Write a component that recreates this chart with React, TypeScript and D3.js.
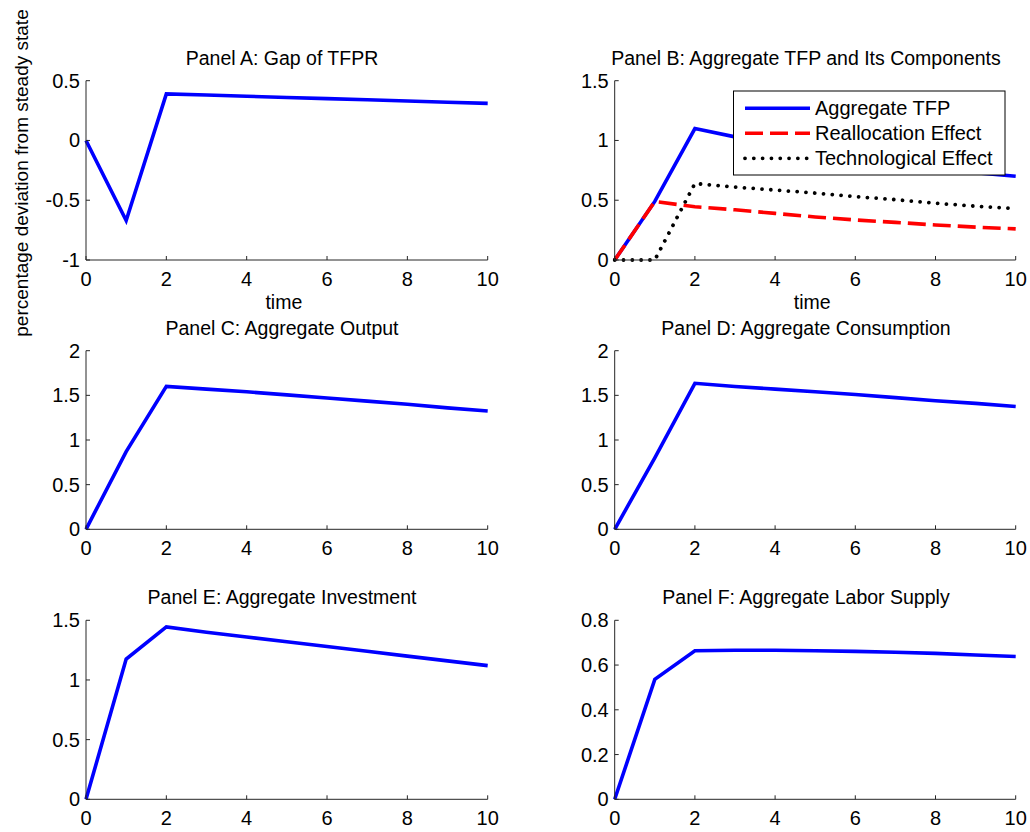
import React from "react";
import * as d3 from "d3";

const TIME = [0, 1, 2, 3, 4, 5, 6, 7, 8, 9, 10];
const X_TICKS = [0, 2, 4, 6, 8, 10];

const gapTFPR = [0, -0.67, 0.39, 0.38, 0.37, 0.36, 0.35, 0.34, 0.33, 0.32, 0.31];
const aggregateTFP = [0, 0.49, 1.1, 1.03, 0.98, 0.93, 0.87, 0.82, 0.77, 0.73, 0.7];
const reallocationEffect = [0, 0.49, 0.445, 0.42, 0.39, 0.36, 0.335, 0.315, 0.293, 0.275, 0.26];
const technologicalEffect = [0, 0, 0.64, 0.61, 0.585, 0.56, 0.53, 0.505, 0.475, 0.45, 0.43];
const aggregateOutput = [0, 0.87, 1.6, 1.57, 1.54, 1.505, 1.47, 1.435, 1.4, 1.36, 1.325];
const aggregateConsumption = [0, 0.8, 1.635, 1.6, 1.57, 1.54, 1.51, 1.475, 1.44, 1.41, 1.375];
const aggregateInvestment = [0, 1.175, 1.445, 1.4, 1.36, 1.32, 1.28, 1.24, 1.2, 1.16, 1.12];
const aggregateLabor = [0, 0.536, 0.664, 0.666, 0.666, 0.664, 0.661, 0.657, 0.652, 0.645, 0.638];

const TITLES = [
  "Panel A: Gap of TFPR",
  "Panel B: Aggregate TFP and Its Components",
  "Panel C: Aggregate Output",
  "Panel D: Aggregate Consumption",
  "Panel E: Aggregate Investment",
  "Panel F: Aggregate Labor Supply",
];
const Y_TICKS_A = [-1, -0.5, 0, 0.5];
const Y_TICKS_B = [0, 0.5, 1, 1.5];
const Y_TICKS_CD = [0, 0.5, 1, 1.5, 2];
const Y_TICKS_E = [0, 0.5, 1, 1.5];
const Y_TICKS_F = [0, 0.2, 0.4, 0.6, 0.8];
const LEGEND_LABELS = ["Aggregate TFP", "Reallocation Effect", "Technological Effect"];
const Y_LABEL = "percentage deviation from steady state";
const X_LABEL = "time";

const FONT = "'Liberation Sans', Arial, Helvetica, sans-serif";
const AXIS = "#262626";
const BLUE = "#0000ff";
const RED = "#ff0000";

type Series = { values: number[]; color: string; dash?: string; cap?: string; width: number };

const solid = (values: number[]): Series => ({ values, color: BLUE, width: 3.6 });
const dashed = (values: number[]): Series => ({ values, color: RED, dash: "18,7", width: 3.6 });
const dotted = (values: number[]): Series => ({ values, color: "#000", dash: "0.01,8.8", cap: "round", width: 3.8 });

const COLS = [
  [86, 487.7],
  [614.7, 1015.7],
];
const ROWS = [
  [80.7, 260],
  [350.7, 529.3],
  [620.3, 799.3],
];
const TITLE_X = [282, 806];

const panels = [
  { title: TITLES[0], series: [solid(gapTFPR)], yDomain: [-1, 0.5], yTicks: Y_TICKS_A, xlabel: true, legend: false },
  {
    title: TITLES[1],
    series: [solid(aggregateTFP), dashed(reallocationEffect), dotted(technologicalEffect)],
    yDomain: [0, 1.5],
    yTicks: Y_TICKS_B,
    xlabel: true,
    legend: true,
  },
  { title: TITLES[2], series: [solid(aggregateOutput)], yDomain: [0, 2], yTicks: Y_TICKS_CD, xlabel: false, legend: false },
  { title: TITLES[3], series: [solid(aggregateConsumption)], yDomain: [0, 2], yTicks: Y_TICKS_CD, xlabel: false, legend: false },
  { title: TITLES[4], series: [solid(aggregateInvestment)], yDomain: [0, 1.5], yTicks: Y_TICKS_E, xlabel: false, legend: false },
  { title: TITLES[5], series: [solid(aggregateLabor)], yDomain: [0, 0.8], yTicks: Y_TICKS_F, xlabel: false, legend: false },
];

function Panel({ p, idx }: { p: (typeof panels)[number]; idx: number }) {
  const col = idx % 2;
  const row = Math.floor(idx / 2);
  const [x0, x1] = COLS[col];
  const [y0, y1] = ROWS[row];
  const x = d3.scaleLinear().domain([0, 10]).range([x0, x1]);
  const y = d3.scaleLinear().domain(p.yDomain).range([y1, y0]);
  const line = d3
    .line<number>()
    .x((_, i) => x(TIME[i]))
    .y((d) => y(d));
  const fmt = (v: number) => String(v);
  return (
    <g>
      <text x={TITLE_X[col]} y={y0 - 16} textAnchor="middle" fontSize={19.5} fill="#000">
        {p.title}
      </text>
      {p.series.map((s, i) => (
        <path
          key={i}
          d={line(s.values) || ""}
          fill="none"
          stroke={s.color}
          strokeWidth={s.width}
          strokeDasharray={s.dash}
          strokeLinecap={(s.cap as any) || "butt"}
          strokeLinejoin="miter"
        />
      ))}
      <line x1={x0} x2={x0} y1={y0} y2={y1} stroke={AXIS} strokeWidth={1} />
      <line x1={x0} x2={x1} y1={y1} y2={y1} stroke={AXIS} strokeWidth={1} />
      {p.yTicks.map((t) => (
        <g key={"y" + t}>
          <line x1={x0} x2={x0 + 4} y1={y(t)} y2={y(t)} stroke={AXIS} strokeWidth={1} />
          <text x={x0 - 6} y={y(t) + 7} textAnchor="end" fontSize={20} fill="#000">
            {fmt(t)}
          </text>
        </g>
      ))}
      {X_TICKS.map((t) => (
        <g key={"x" + t}>
          <line x1={x(t)} x2={x(t)} y1={y1} y2={y1 - 4} stroke={AXIS} strokeWidth={1} />
          <text x={x(t)} y={y1 + 26} textAnchor="middle" fontSize={20} fill="#000">
            {fmt(t)}
          </text>
        </g>
      ))}
      {p.xlabel && (
        <text x={(x0 + x1) / 2 - 3} y={y1 + 49} textAnchor="middle" fontSize={19.5} fill="#000">
          {X_LABEL}
        </text>
      )}
      {p.legend && (
        <g>
          <rect x={733.5} y={91} width={271.5} height={84} fill="#fff" stroke="#000" strokeWidth={1} />
          {p.series.map((s, i) => {
            const ly = 108.3 + i * 25;
            return (
              <g key={"l" + i}>
                <line
                  x1={745}
                  x2={810}
                  y1={ly}
                  y2={ly}
                  stroke={s.color}
                  strokeWidth={s.width}
                  strokeDasharray={s.dash}
                  strokeLinecap={(s.cap as any) || "butt"}
                />
                <text x={815} y={ly + 7} fontSize={20} fill="#000">
                  {LEGEND_LABELS[i]}
                </text>
              </g>
            );
          })}
        </g>
      )}
    </g>
  );
}

export default function App() {
  return (
    <svg
      width={1030}
      height={832}
      style={{ position: "absolute", left: 0, top: 0, background: "#fff", fontFamily: FONT }}
    >
      <rect x={0} y={0} width={1030} height={832} fill="#fff" />
      <text
        transform="translate(28,173) rotate(-90)"
        textAnchor="middle"
        fontSize={19}
        fill="#000"
      >
        {Y_LABEL}
      </text>
      {panels.map((p, i) => (
        <Panel key={i} p={p} idx={i} />
      ))}
    </svg>
  );
}
